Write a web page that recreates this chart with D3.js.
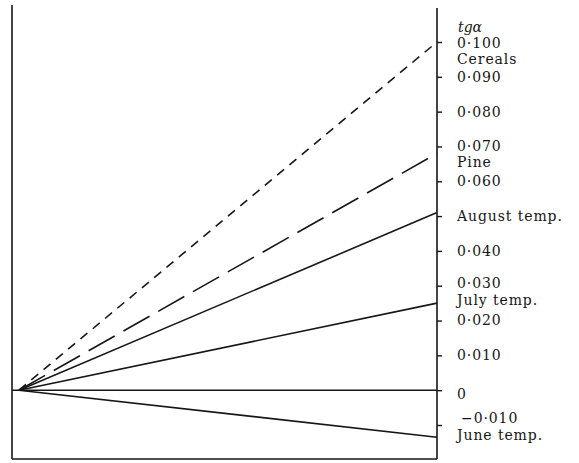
<!DOCTYPE html>
<html><head><meta charset="utf-8">
<script src="https://cdn.jsdelivr.net/npm/d3@7"></script>
<style>body{margin:0;background:#fff}svg{display:block}</style>
</head><body>
<script>
const seriesNames = ["Cereals", "Pine", "August temp.", "July temp.", "June temp."];
const seriesValues = [0.100, 0.068, 0.051, 0.025, -0.0135];
const seriesDash = ["9,7", "30,10", null, null, null];
const tickValues = [0.100, 0.090, 0.080, 0.070, 0.060, 0.050, 0.040, 0.030, 0.020, 0.010, 0, -0.010];
const tickLabels = ["0·100", "0·090", "0·080", "0·070", "0·060", "", "0·040", "0·030", "0·020", "0·010", "0", "−0·010"];
const tickLabelShift = [1, 0, 0, 0, 0, 0, 0, -3, 0, 0, 4, -7];
const labelOffsets = [17, 9, 3, -3, -2];

const W = 579, H = 463;
const svg = d3.select("body").append("svg").attr("width", W).attr("height", H);
const font = "'DejaVu Serif', 'Liberation Serif', serif";
const fs = 14, ls = 0.9;

const y = d3.scaleLinear().domain([-0.010, 0.100]).range([425, 42]);
const x = d3.scaleLinear().domain([0, 1]).range([19, 437]);

const ink = "#161616";
svg.append("line").attr("x1", 12).attr("x2", 12).attr("y1", 5).attr("y2", 459).attr("stroke", ink).attr("stroke-width", 1.6);
svg.append("line").attr("x1", 12).attr("x2", 437).attr("y1", 459).attr("y2", 459).attr("stroke", ink).attr("stroke-width", 1.6);
svg.append("line").attr("x1", 12).attr("x2", 437).attr("y1", y(0)).attr("y2", y(0)).attr("stroke", ink).attr("stroke-width", 1.4);

const axis = d3.axisRight(y).tickValues(tickValues).tickSize(5).tickFormat("");
const ag = svg.append("g").attr("transform", "translate(437,0)").call(axis);
ag.select(".domain").attr("stroke", ink).attr("stroke-width", 1.6).attr("d", "M0,8V459");
ag.selectAll(".tick line").attr("stroke", ink).attr("stroke-width", 1.4);

svg.append("g").selectAll("text").data(tickValues).join("text")
  .attr("x", (d) => d < 0 ? 461 : 457).attr("y", (d, i) => y(d) + tickLabelShift[i]).attr("dy", "0.35em")
  .attr("font-family", font).attr("font-size", fs).attr("letter-spacing", ls).attr("fill", ink)
  .text((d, i) => tickLabels[i]);

svg.append("text").attr("x", 458).attr("y", 32).attr("font-family", font)
  .attr("font-style", "italic").attr("font-size", fs).attr("fill", ink).text("tgα");

svg.append("g").selectAll("line").data(seriesValues).join("line")
  .attr("x1", x(0)).attr("y1", y(0)).attr("x2", x(1)).attr("y2", d => y(d))
  .attr("stroke", ink).attr("stroke-width", 1.6)
  .attr("stroke-dasharray", (d, i) => seriesDash[i]);

svg.append("g").selectAll("text").data(seriesValues).join("text")
  .attr("x", 457).attr("y", (d, i) => y(d) + labelOffsets[i]).attr("dy", "0.35em")
  .attr("font-family", font).attr("font-size", fs).attr("letter-spacing", ls).attr("fill", ink)
  .text((d, i) => seriesNames[i]);
</script>
</body></html>
